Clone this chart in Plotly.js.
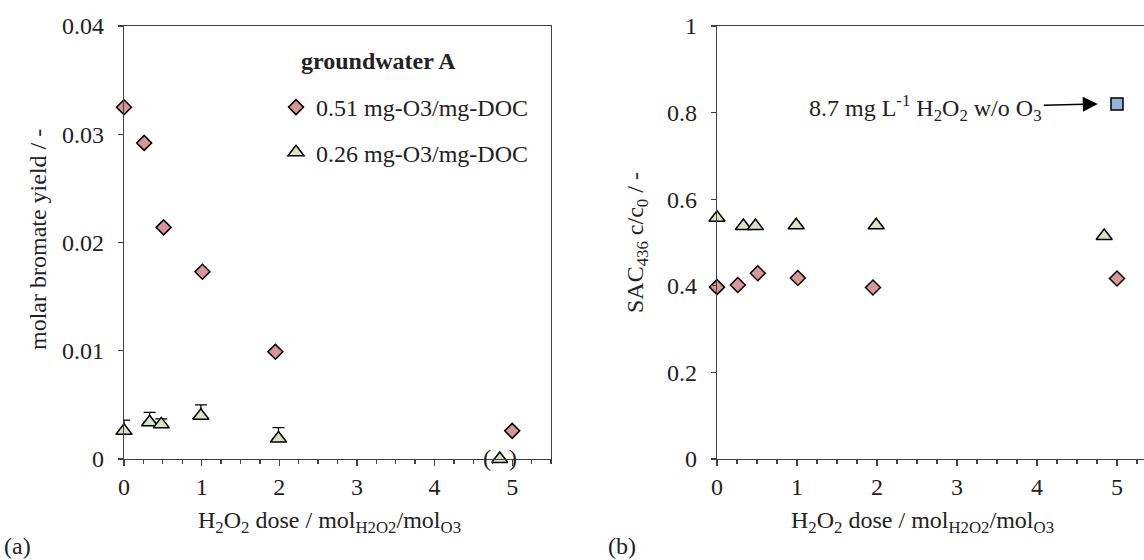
<!DOCTYPE html>
<html>
<head>
<meta charset="utf-8">
<script src="https://cdn.plot.ly/plotly-3.0.1.min.js"></script>
<style>html,body{margin:0;padding:0;background:#fff;}#chart{width:1144px;height:560px;}</style>
</head>
<body>
<div id="chart"></div>
<script>
// H2O2 dose (mol H2O2 / mol O3)
const doseHigh = [0, 0.26, 0.51, 1.01, 1.95, 5.0];
const doseLow  = [0, 0.33, 0.48, 0.99, 1.99, 4.84];
// (a) molar bromate yield
const bromateHigh = [0.0325, 0.0292, 0.0214, 0.0173, 0.0099, 0.0026];
const bromateLow  = [0.0026, 0.0034, 0.0032, 0.0040, 0.0019, 0.0000];
const bromateLowErr = [0.0010, 0.0009, 0.0005, 0.0010, 0.0010, 0];
// (b) SAC436 c/c0
const sacHigh = [0.397, 0.402, 0.429, 0.418, 0.396, 0.417];
const sacLow  = [0.557, 0.538, 0.538, 0.540, 0.540, 0.515];
const h2o2OnlyDose = [5.0];
const h2o2OnlySac  = [0.82];

const nameHigh = '0.51 mg-O3/mg-DOC';
const nameLow  = '0.26 mg-O3/mg-DOC';
const legendTitle = 'groundwater A';

const FONT = 'Liberation Serif, Times New Roman, serif';
const AX = '#404040';
const W = 1144, H = 560;
const px = v => v / W, py = v => 1 - v / H;

const diamond = {symbol: 'diamond', size: 11.5, color: '#D99694', line: {color: '#000', width: 1.5}};
const triangle = {symbol: 'triangle-up', size: 14, color: '#D7E4BD', line: {color: '#000', width: 1.5}};
const square = {symbol: 'square', size: 12, color: '#95B3D7', line: {color: '#000', width: 1.5}};

const traces = [
  {x: doseHigh, y: bromateHigh, xaxis: 'x', yaxis: 'y', type: 'scatter', mode: 'markers', name: nameHigh,
   marker: diamond, cliponaxis: false, legendgroup: 'g1'},
  {x: doseLow, y: bromateLow, xaxis: 'x', yaxis: 'y', type: 'scatter', mode: 'markers', name: nameLow,
   marker: triangle, cliponaxis: false, legendgroup: 'g2',
   error_y: {type: 'data', symmetric: false, array: bromateLowErr, arrayminus: bromateLowErr.map(() => 0),
             width: 6, thickness: 1.3, color: '#000'}},
  {x: doseHigh, y: sacHigh, xaxis: 'x2', yaxis: 'y2', type: 'scatter', mode: 'markers', name: nameHigh,
   marker: diamond, cliponaxis: false, showlegend: false},
  {x: doseLow, y: sacLow, xaxis: 'x2', yaxis: 'y2', type: 'scatter', mode: 'markers', name: nameLow,
   marker: triangle, cliponaxis: false, showlegend: false},
  {x: h2o2OnlyDose, y: h2o2OnlySac, xaxis: 'x2', yaxis: 'y2', type: 'scatter', mode: 'markers',
   name: 'H2O2 w/o O3', marker: square, cliponaxis: false, showlegend: false}
];

const tickfont = {family: FONT, size: 24, color: '#222'};
const baseX = {
  dtick: 1, tick0: 0, ticks: 'outside', ticklen: 6, tickwidth: 1.3, tickcolor: AX,
  showline: true, linecolor: AX, linewidth: 1.3, showgrid: false, zeroline: false,
  tickfont: tickfont, automargin: false, fixedrange: true, ticklabelstandoff: 0,
  minor: {dtick: 0.25, tick0: 0, ticks: 'outside', ticklen: 4, tickwidth: 1.3, tickcolor: AX, showgrid: false}
};
const baseY = {
  ticks: 'outside', ticklen: 5, tickwidth: 1.3, tickcolor: AX,
  showline: true, linecolor: AX, linewidth: 1.3, showgrid: false, zeroline: false,
  tickfont: tickfont, automargin: false, fixedrange: true, ticklabelstandoff: 9
};
const yDomain = [py(459), py(26)];

const xTitle = 'H<sub>2</sub>O<sub>2</sub> dose / mol<sub>H2O2</sub>/mol<sub>O3</sub>';
const annFont = {family: FONT, size: 24, color: '#222'};
const paperAnn = (text, x, y, extra) => Object.assign({
  text: text, xref: 'paper', yref: 'paper', x: px(x), y: py(y),
  xanchor: 'center', yanchor: 'middle', showarrow: false, font: annFont
}, extra || {});

const layout = {
  width: W, height: H,
  margin: {l: 0, r: 0, t: 0, b: 0},
  paper_bgcolor: '#fff', plot_bgcolor: '#fff',
  showlegend: true,
  xaxis: Object.assign({}, baseX, {domain: [px(124), px(551)], range: [0, 5.5], anchor: 'y', mirror: true}),
  yaxis: Object.assign({}, baseY, {domain: yDomain, range: [0, 0.04], dtick: 0.01, anchor: 'x', mirror: true}),
  xaxis2: Object.assign({}, baseX, {domain: [px(717), 1], range: [0, 427 / 80], anchor: 'y2', mirror: true}),
  yaxis2: Object.assign({}, baseY, {domain: yDomain, range: [0, 1], dtick: 0.2, anchor: 'x2', mirror: false}),
  legend: {
    x: px(276), y: py(85), xanchor: 'left', yanchor: 'top',
    bgcolor: 'rgba(0,0,0,0)', borderwidth: 0,
    font: {family: FONT, size: 24, color: '#222'},
    traceorder: 'grouped', tracegroupgap: 11, itemwidth: 30
  },
  annotations: [
    paperAnn('<b>' + legendTitle + '</b>', 378, 61, {font: {family: FONT, size: 24, color: '#222'}}),
    paperAnn(xTitle, 330, 522),
    paperAnn(xTitle, 922, 522),
    paperAnn('molar bromate yield / -', 38, 240, {textangle: -90}),
    paperAnn('SAC<sub>436</sub> c/c<sub>0</sub> / -', 637, 242, {textangle: -90}),
    paperAnn('(a)', 17, 546),
    paperAnn('(b)', 622, 546),
    {text: '(&nbsp;&nbsp;&nbsp;)', xref: 'x', yref: 'y', x: doseLow[5], y: bromateLow[5], showarrow: false,
     xanchor: 'center', yanchor: 'middle', font: annFont, yshift: 1},
    {text: '8.7 mg L<sup>-1</sup> H<sub>2</sub>O<sub>2</sub> w/o O<sub>3</sub>', xref: 'x2', yref: 'y2',
     x: h2o2OnlyDose[0] - 0.24, y: h2o2OnlySac[0], axref: 'pixel', ayref: 'pixel', ax: -172, ay: 4,
     showarrow: true, arrowhead: 2, arrowsize: 2, arrowwidth: 1.5, arrowcolor: '#000', font: annFont}
  ]
};

Plotly.newPlot('chart', traces, layout, {displayModeBar: false, staticPlot: true});
</script>
</body>
</html>
